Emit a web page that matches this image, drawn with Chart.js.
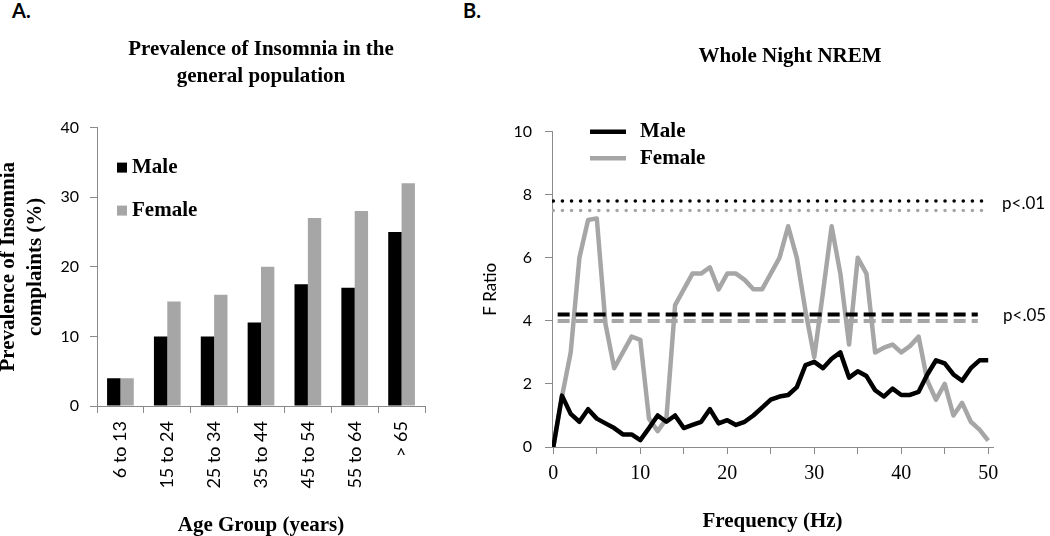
<!DOCTYPE html>
<html lang="en">
<head>
<meta charset="UTF-8">
<script src="https://cdn.jsdelivr.net/npm/chart.js@4.4.0/dist/chart.umd.min.js"></script>
<title>Insomnia prevalence / Whole Night NREM</title>
<style>
  body {margin: 0; background: #fff; width: 1050px; height: 536px; position: relative; overflow: hidden;}
  .panel {position: absolute; top: 0; font: bold 20px Lato, sans-serif; line-height: 20px;}
  #wrapA {position: absolute; left: 0; top: 0;}
  #wrapB {position: absolute; left: 475px; top: 0;}
</style>
</head>
<body>
<div class="panel" style="left:12px">A.</div>
<div class="panel" style="left:463px">B.</div>
<div id="wrapA"><canvas id="chartA" width="470" height="536"></canvas></div>
<div id="wrapB"><canvas id="chartB" width="575" height="536"></canvas></div>

<script>
// ---- panel A data ----
const ageGroups = ['6 to 13', '15 to 24', '25 to 34', '35 to 44', '45 to 54', '55 to 64', '> 65'];
const malePrevalence = [4, 10, 10, 12, 17.5, 17, 25];
const femalePrevalence = [4, 15, 16, 20, 27, 28, 32];
const prevalenceTicks = [0, 10, 20, 30, 40];

// ---- panel B data ----
const freqHz = [0, 1, 2, 3, 4, 5, 6, 7, 8, 9, 10, 11, 12, 13, 14, 15, 16, 17, 18, 19, 20,
  21, 22, 23, 24, 25, 26, 27, 28, 29, 30, 31, 32, 33, 34, 35, 36, 37, 38, 39, 40,
  41, 42, 43, 44, 45, 46, 47, 48, 49, 50];
const maleF = [0, 1.63, 1.05, 0.8, 1.2, 0.9, 0.75, 0.6, 0.4, 0.4, 0.22,
  0.6, 1.0, 0.8, 1.0, 0.6, 0.7, 0.8, 1.2, 0.75, 0.85,
  0.7, 0.8, 1.0, 1.25, 1.5, 1.6, 1.65, 1.9, 2.6, 2.7,
  2.5, 2.8, 3.0, 2.2, 2.4, 2.25, 1.8, 1.6, 1.85, 1.65,
  1.65, 1.75, 2.3, 2.75, 2.65, 2.3, 2.1, 2.5, 2.75, 2.75];
const femaleF = [0, 1.6, 3.0, 6.0, 7.2, 7.25, 3.9, 2.5, 3.0, 3.5, 3.4,
  0.9, 0.5, 0.9, 4.5, 5.0, 5.5, 5.5, 5.7, 5.0, 5.5,
  5.5, 5.3, 5.0, 5.0, 5.5, 6.0, 7.0, 6.0, 4.3, 2.85,
  4.9, 7.0, 5.5, 3.25, 6.0, 5.5, 3.0, 3.15, 3.25, 3.0,
  3.2, 3.5, 2.1, 1.5, 2.0, 1.0, 1.4, 0.8, 0.55, 0.2];
const fRatioTicks = [0, 2, 4, 6, 8, 10];
const freqLabelTicks = [0, 10, 20, 30, 40, 50];
const p01Levels = [7.8, 7.5];   // male, female
const p05Levels = [4.2, 4.0];   // male, female
const dottedSpan = [0, 49.6];
const dashedSpan = [0.5, 48.8];

const SERIF = '"Liberation Serif", "Times New Roman", serif';
const AXIS_GRAY = '#8a8a8a';
const BLACK = '#000000';
const GRAY = '#a6a6a6';

Chart.defaults.font.family = 'Lato, sans-serif';
Chart.defaults.color = '#000';

// small square legend for the bar chart
const boxLegend = {
  id: 'boxLegend',
  afterDraw(chart) {
    const {ctx, chartArea} = chart;
    ctx.save();
    ctx.font = 'bold 21px ' + SERIF;
    ctx.textBaseline = 'middle';
    chart.data.datasets.forEach((ds, i) => {
      const y = chartArea.top + 40 + i * 43;
      ctx.fillStyle = ds.backgroundColor;
      ctx.fillRect(chartArea.left + 20, y - 5, 10, 10);
      ctx.fillStyle = BLACK;
      ctx.fillText(ds.label, chartArea.left + 35, y);
    });
    ctx.restore();
  }
};

// title, line legend and p labels for the F ratio chart
const lineLegend = {
  id: 'lineLegend',
  afterDraw(chart) {
    const {ctx, chartArea, scales} = chart;
    ctx.save();
    ctx.textBaseline = 'middle';
    ctx.fillStyle = BLACK;
    ctx.font = 'bold 21px ' + SERIF;
    ctx.textAlign = 'center';
    ctx.fillText('Whole Night NREM', chartArea.left + 238, 57);
    ctx.textAlign = 'left';
    const series = chart.data.datasets.filter(ds => ds.inLegend);
    series.forEach((ds, i) => {
      const y = chartArea.top + i * 26.6;
      ctx.strokeStyle = ds.borderColor;
      ctx.lineWidth = 4.5;
      ctx.beginPath();
      ctx.moveTo(chartArea.left + 38, y);
      ctx.lineTo(chartArea.left + 74, y);
      ctx.stroke();
      ctx.fillText(ds.label, chartArea.left + 88, y);
    });
    ctx.font = '17px Lato, sans-serif';
    ctx.fillText('p<.01', chartArea.right + 9, scales.y.getPixelForValue(p01Levels[0]) + 2);
    ctx.fillText('p<.05', chartArea.right + 10, scales.y.getPixelForValue(p05Levels[0]) + 1);
    ctx.restore();
  }
};

new Chart(document.getElementById('chartA'), {
  type: 'bar',
  data: {
    labels: ageGroups,
    datasets: [
      {label: 'Male', data: malePrevalence, backgroundColor: BLACK, borderWidth: 0},
      {label: 'Female', data: femalePrevalence, backgroundColor: GRAY, borderWidth: 0}
    ]
  },
  options: {
    responsive: false,
    animation: false,
    devicePixelRatio: 1,
    categoryPercentage: 0.57,
    barPercentage: 1.0,
    layout: {padding: {left: 0, right: 45, top: 0, bottom: 0}},
    plugins: {
      legend: {display: false},
      tooltip: {enabled: false},
      title: {
        display: true,
        fullSize: false,
        text: ['Prevalence of Insomnia in the', 'general population'],
        color: BLACK,
        font: {family: SERIF, size: 21, weight: 'bold', lineHeight: 1.3},
        padding: {top: 36, bottom: 37}
      }
    },
    scales: {
      x: {
        grid: {offset: true, drawOnChartArea: false, tickLength: 7, color: AXIS_GRAY},
        border: {color: AXIS_GRAY},
        ticks: {minRotation: 90, maxRotation: 90, padding: 8, font: {size: 18}, color: BLACK},
        title: {display: true, text: 'Age Group (years)', color: BLACK,
          font: {family: SERIF, size: 21, weight: 'bold', lineHeight: 1}, padding: 0},
        afterFit: s => { s.height = 130; }
      },
      y: {
        min: prevalenceTicks[0],
        max: prevalenceTicks[prevalenceTicks.length - 1],
        grid: {drawOnChartArea: false, tickLength: 7, color: AXIS_GRAY},
        border: {color: AXIS_GRAY},
        ticks: {stepSize: prevalenceTicks[1] - prevalenceTicks[0], padding: 11, font: {size: 16}, color: BLACK},
        title: {display: true, text: ['Prevalence of Insomnia', 'complaints (%)'], color: BLACK,
          font: {family: SERIF, size: 21, weight: 'bold', lineHeight: 1.3}, padding: {top: -5, bottom: 0}},
        afterFit: s => { s.width = 97; }
      }
    }
  },
  plugins: [boxLegend]
});

const toPoints = ys => freqHz.map((f, i) => ({x: f, y: ys[i]}));
const flat = (span, level) => [{x: span[0], y: level}, {x: span[1], y: level}];

new Chart(document.getElementById('chartB'), {
  type: 'line',
  data: {
    datasets: [
      {label: 'Male', inLegend: true, data: toPoints(maleF), borderColor: BLACK, borderWidth: 4.5, order: 1},
      {label: 'Female', inLegend: true, data: toPoints(femaleF), borderColor: GRAY, borderWidth: 4.5, order: 3},
      {label: 'p01 male', data: flat(dottedSpan, p01Levels[0]), borderColor: BLACK, borderWidth: 3.6,
        borderDash: [0.01, 9.1], borderCapStyle: 'round', order: 0},
      {label: 'p01 female', data: flat(dottedSpan, p01Levels[1]), borderColor: GRAY, borderWidth: 3.6,
        borderDash: [0.01, 9.1], borderCapStyle: 'round', order: 0},
      {label: 'p05 male', data: flat(dashedSpan, p05Levels[0]), borderColor: BLACK, borderWidth: 4,
        borderDash: [12, 6], order: 0},
      {label: 'p05 female', data: flat(dashedSpan, p05Levels[1]), borderColor: GRAY, borderWidth: 4,
        borderDash: [12, 6], order: 0}
    ]
  },
  options: {
    responsive: false,
    animation: false,
    devicePixelRatio: 1,
    elements: {
      point: {radius: 0},
      line: {tension: 0, borderJoinStyle: 'round', fill: false}
    },
    layout: {padding: {left: 0, right: 57, top: 131.7, bottom: 0}},
    plugins: {
      legend: {display: false},
      tooltip: {enabled: false},
      title: {display: false}
    },
    scales: {
      x: {
        type: 'linear',
        min: -0.15,
        max: 50.55,
        grid: {drawOnChartArea: false, tickLength: 7, color: AXIS_GRAY},
        border: {color: AXIS_GRAY},
        ticks: {
          stepSize: 5, includeBounds: false, autoSkip: false, maxRotation: 0, padding: 8,
          font: {family: SERIF, size: 20}, color: BLACK,
          callback: v => freqLabelTicks.includes(v) ? String(v) : ''
        },
        title: {display: true, text: 'Frequency (Hz)', color: BLACK,
          font: {family: SERIF, size: 21, weight: 'bold', lineHeight: 1}, padding: {top: 0, bottom: 3.5}},
        afterFit: s => { s.height = 89; }
      },
      y: {
        min: fRatioTicks[0],
        max: fRatioTicks[fRatioTicks.length - 1],
        grid: {drawOnChartArea: false, tickLength: 7, color: AXIS_GRAY},
        border: {color: AXIS_GRAY},
        ticks: {stepSize: fRatioTicks[1] - fRatioTicks[0], padding: 13, font: {size: 16}, color: BLACK},
        title: {display: true, text: 'F Ratio', color: BLACK, font: {size: 17, lineHeight: 1.2},
          padding: {top: 5.8, bottom: 0}},
        afterFit: s => { s.width = 77; }
      }
    }
  },
  plugins: [lineLegend]
});
</script>
</body>
</html>
